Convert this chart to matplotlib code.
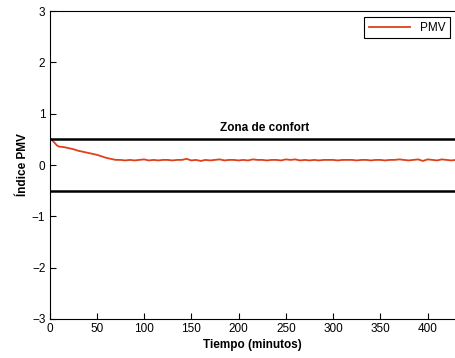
import matplotlib.pyplot as plt

plt.rcParams['font.family'] = ['Liberation Sans', 'DejaVu Sans']

# PMV index over time
minutes = [0, 2, 4, 6, 8, 10, 15, 20, 25, 30, 35, 40, 45, 50, 55, 60, 65, 70,
           75, 80, 85, 90, 95, 100, 105, 110, 115, 120, 125, 130, 135, 140,
           145, 150, 155, 160, 165, 170, 175, 180, 185, 190, 195, 200, 205,
           210, 215, 220, 225, 230, 235, 240, 245, 250, 255, 260, 265, 270,
           275, 280, 285, 290, 295, 300, 305, 310, 315, 320, 325, 330, 335,
           340, 345, 350, 355, 360, 365, 370, 375, 380, 385, 390, 395, 400,
           405, 410, 415, 420, 425, 430]
pmv = [0.53, 0.50, 0.46, 0.42, 0.38, 0.36, 0.35, 0.33, 0.31, 0.28, 0.26, 0.24,
       0.22, 0.20, 0.17, 0.14, 0.12, 0.10, 0.10, 0.09, 0.10, 0.09, 0.10, 0.11,
       0.09, 0.10, 0.09, 0.10, 0.10, 0.09, 0.10, 0.10, 0.12, 0.09, 0.10, 0.08,
       0.10, 0.09, 0.10, 0.11, 0.09, 0.10, 0.10, 0.09, 0.10, 0.09, 0.11, 0.10,
       0.10, 0.09, 0.10, 0.10, 0.09, 0.11, 0.10, 0.11, 0.09, 0.10, 0.09, 0.10,
       0.09, 0.10, 0.10, 0.10, 0.09, 0.10, 0.10, 0.10, 0.09, 0.10, 0.10, 0.09,
       0.10, 0.10, 0.09, 0.10, 0.10, 0.11, 0.10, 0.09, 0.10, 0.11, 0.08, 0.11,
       0.10, 0.09, 0.11, 0.10, 0.09, 0.10]
comfort_limits = [0.5, -0.5]

fig = plt.figure(figsize=(4.56, 3.58), dpi=100)
ax = fig.add_axes([0.1086, 0.109, 0.8914, 0.860])

ax.plot(minutes, pmv, color='#e0401a', linewidth=1.3, label='PMV')
for lim in comfort_limits:
    ax.axhline(lim, color='black', linewidth=1.8)
ax.text(228, 0.72, 'Zona de confort', ha='center', va='center',
        fontsize=8.5, fontweight='bold')

ax.set_xlim(0, 430)
ax.set_ylim(-3, 3)
ax.set_xticks(range(0, 401, 50))
ax.set_yticks(range(-3, 4))
ax.tick_params(direction='in', length=4, labelsize=8.5, pad=3)
ax.set_xlabel('Tiempo (minutos)', fontsize=8.5, fontweight='bold', labelpad=3)
ax.set_ylabel('Índice PMV', fontsize=8.5, fontweight='bold', labelpad=2)

leg = ax.legend(loc='upper right', fontsize=8.5, fancybox=False,
                edgecolor='black', framealpha=1, handlelength=3.5,
                borderaxespad=0.5)
leg.get_frame().set_linewidth(0.8)

plt.savefig('out.png')
